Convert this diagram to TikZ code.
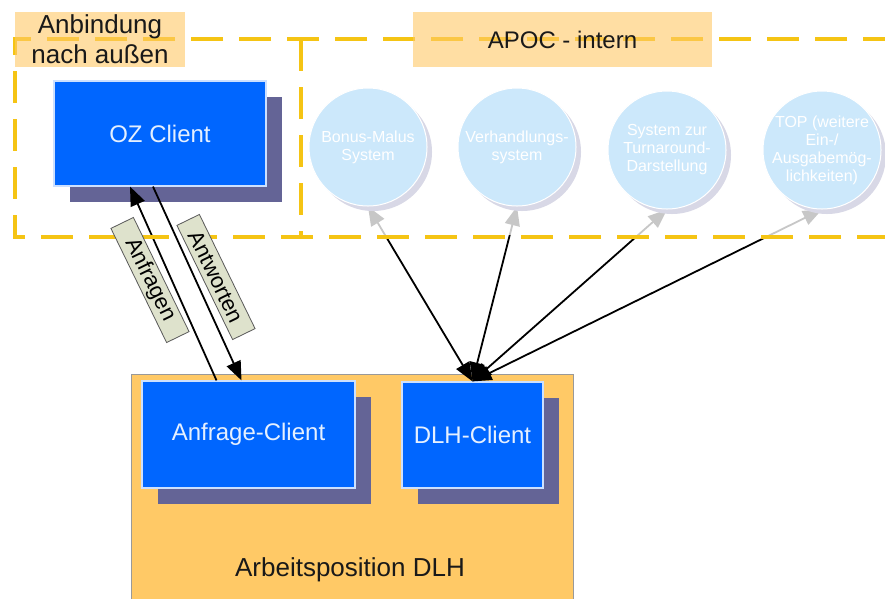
\documentclass[tikz,border=0pt]{standalone}
\usepackage{fontspec}
\setmainfont{Liberation Sans}
\usetikzlibrary{arrows.meta,shapes.geometric,shadows}

\definecolor{apblue}{RGB}{0,102,255}
\definecolor{apshadow}{RGB}{100,100,150}
\definecolor{aporange}{RGB}{255,201,102}
\definecolor{apyellow}{RGB}{245,196,20}
\definecolor{aptag}{RGB}{222,226,204}
\definecolor{apcircle}{RGB}{204,232,251}
\definecolor{apcshadow}{RGB}{216,216,230}

\pgfdeclarelayer{base}
\pgfdeclarelayer{links}
\pgfdeclarelayer{veil}
\pgfsetlayers{base,links,veil,main}

\tikzset{
  client/.style={rectangle, fill=apblue, draw=white!80!apblue, line width=1.2pt,
    text=white!90!apblue, font=\fontsize{24}{28}\selectfont, inner sep=0pt,
    drop shadow={shadow xshift=16pt, shadow yshift=-16pt, fill=apshadow, opacity=1}},
  subsystem/.style={circle, fill=apcircle, draw=white, line width=1pt,
    minimum size=118pt, inner sep=0pt,
    drop shadow={shadow xshift=5pt, shadow yshift=-5pt, fill=apcshadow, opacity=1}},
  subtext/.style={align=center, text=white, font=\fontsize{16}{18}\selectfont},
  regionlabel/.style={rectangle, fill=aporange, fill opacity=0.6, text opacity=1,
    text=black!90, inner sep=0pt, align=center},
  boundary/.style={draw=apyellow, line width=4pt, dash pattern=on 32pt off 16pt},
  flowtag/.style={rectangle, fill=aptag, draw=black!65, line width=0.8pt,
    minimum width=127pt, minimum height=25pt, inner sep=0pt, rotate=-64,
    font=\fontsize{22}{24}\selectfont},
  flow/.style={line width=1.8pt, black},
  oneway/.style={flow, -{Triangle[length=19pt,width=15pt]}},
  twoway/.style={flow, {Triangle[length=19pt,width=15pt]}-{Triangle[length=19pt,width=15pt]}}
}

\begin{document}
\begin{tikzpicture}[x=1pt, y=-1pt]
  \useasboundingbox (0,0) rectangle (885,598);
  \clip (0,0) rectangle (885,598);

  \begin{pgfonlayer}{base}
    \fill[white] (0,0) rectangle (885,598);
    % work station area
    \node[rectangle, fill=aporange, draw=black!40, line width=1pt, minimum width=442pt,
          minimum height=260pt, inner sep=0pt] (arbeit) at (352,504) {};
    \node[font=\fontsize{26}{30}\selectfont, text=black!90] (arbeittext) at (350,570) {Arbeitsposition DLH};
    % clients
    \node[client, minimum width=212pt, minimum height=105pt] (oz) at (160,133.5) {OZ Client};
    \node[client, minimum width=213pt, minimum height=107pt] (anf) at (248.5,434.5) {Anfrage-Client};
    \node[client, minimum width=141pt, minimum height=106pt] (dlh) at (472.5,435) {DLH-Client};
  \end{pgfonlayer}

  % internal subsystems
  \node[subsystem, label={[subtext]center:Bonus-Malus\\System}] (bm) at (368,147) {};
  \node[subsystem, label={[subtext]center:Verhandlungs-\\system}] (vh) at (517,147) {};
  \node[subsystem, label={[subtext]center:System zur\\Turnaround-\\Darstellung}] (ta) at (667,150) {};
  \node[subsystem, label={[subtext]center:TOP (weitere\\Ein-/\\Ausgabemög-\\lichkeiten)}] (top) at (822,150) {};

  \begin{pgfonlayer}{links}
    % requests and answers
    \draw[oneway] ([xshift=-32pt]anf.north) -- ([xshift=-30pt]oz.south);
    \draw[oneway] ([xshift=-7pt]oz.south) -- ([xshift=-7pt]anf.north);
    % links from the DLH client to the subsystems
    \foreach \s in {bm,vh,ta,top} {
      \draw[twoway] (\s.south) -- (dlh.north);
    }
  \end{pgfonlayer}

  % everything behind the internal zone appears faded
  \begin{pgfonlayer}{veil}
    \fill[white, opacity=0.78] (302,41) rectangle (885,235);
  \end{pgfonlayer}

  % zone boundaries
  \draw[boundary] (895,39) -- (15,39) -- (15,237) -- (895,237);
  \draw[boundary] (301,39) -- (301,237);

  % zone labels
  \node[regionlabel, minimum width=170pt, minimum height=55pt,
        font=\fontsize{26}{30}\selectfont] (anbindung) at (100,39.5) {Anbindung\\nach außen};
  \node[regionlabel, minimum width=299pt, minimum height=55pt,
        font=\fontsize{24}{28}\selectfont] (apoc) at (562.5,39.5) {APOC - intern};

  % flow tags
  \node[flowtag] (tagreq) at (150,280) {Anfragen};
  \node[flowtag] (tagans) at (216,277) {Antworten};
\end{tikzpicture}
\end{document}
